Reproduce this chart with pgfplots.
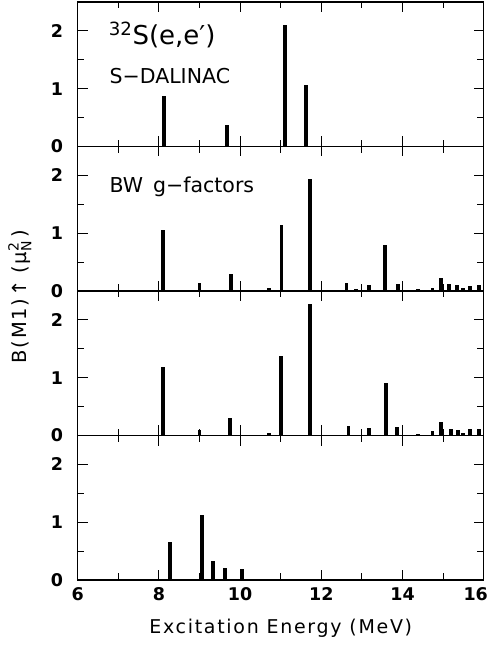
\documentclass[border=0pt]{standalone}
\usepackage{pgfplots}
\pgfplotsset{compat=1.18}
\usepackage{fontspec}
\setmainfont{DejaVu Sans}
\setsansfont{DejaVu Sans}
\newfontfamily\labfont[LetterSpace=9]{DejaVu Sans}
\begin{document}
\begin{tikzpicture}[x=1pt,y=1pt]
\useasboundingbox (0,0) rectangle (490,650);
\pgfplotsset{
 panel/.style={scale only axis, width=406pt, height=144.5pt,
  xmin=6, xmax=16, ymin=0, ymax=2.5,
  xtick={6,8,...,16}, minor x tick num=1,
  ytick={0,1,2}, minor y tick num=1,
  major tick length=10pt, minor tick length=6.5pt,
  axis line style={line width=1.3pt},
  tick style={line width=1.1pt, black},
  tick label style={font=\fontsize{17.5}{17.5}\selectfont\bfseries},
  /pgf/number format/assume math mode=true,
  yticklabel style={xshift=-11pt},
  xticklabels={},
  anchor=south west,
 },
 bars/.style={ycomb, black, line width=3.9pt, mark=none},
}
% Panel 1: experiment
\begin{axis}[panel, at={(77.7pt,503.5pt)}]
\addplot[bars] coordinates {(8.12,0.88) (9.67,0.38) (11.11,2.11) (11.62,1.06)};
\node[anchor=west, font=\fontsize{26}{26}\selectfont] at (axis cs:6.68,1.93) {\textsuperscript{32}S(e,e′)};
\node[anchor=west, font=\fontsize{20.5}{20.5}\selectfont] at (axis cs:6.70,1.22) {S−DALINAC};
\end{axis}
% Panel 2: BW g-factors
\begin{axis}[panel, at={(77.7pt,359pt)}]
\addplot[bars] coordinates {(8.09,1.06) (9.00,0.14) (9.77,0.30) (10.72,0.05) (11.02,1.15) (11.72,1.94)
 (12.62,0.13) (12.85,0.03) (13.18,0.10) (13.57,0.79) (13.90,0.12) (14.39,0.03) (14.74,0.05)
 (14.94,0.22) (15.15,0.12) (15.35,0.10) (15.50,0.06) (15.66,0.09) (15.89,0.10)};
\node[anchor=west, font=\fontsize{20.5}{20.5}\selectfont] at (axis cs:6.70,1.80) {BW\, g−factors};
\end{axis}
% Panel 3
\begin{axis}[panel, at={(77.7pt,214.5pt)},
  ylabel={B(M1)↑\hspace{7pt}(μ$_{\hbox{\fontsize{14}{14}\selectfont N}}^{\hbox{\fontsize{14}{14}\selectfont 2}}$\hspace{3pt})},
  ylabel style={at={(axis description cs:-0.1425,0.96)}, anchor=center, font=\fontsize{19.5}{19.5}\labfont}]
\addplot[bars] coordinates {(8.09,1.18) (9.00,0.10) (9.75,0.31) (10.72,0.05) (11.01,1.37) (11.72,2.27)
 (12.67,0.17) (13.18,0.13) (13.59,0.90) (13.86,0.14) (14.39,0.03) (14.74,0.08)
 (14.94,0.23) (15.19,0.11) (15.37,0.09) (15.50,0.04) (15.66,0.11) (15.89,0.12)};
\end{axis}
% Panel 4
\begin{axis}[panel, at={(77.7pt,70pt)},
  xticklabels={6,8,10,12,14,{\hspace*{-16pt}16}},
  xticklabel style={yshift=-4pt},
  xlabel={Excitation Energy (MeV)},
  xlabel style={at={(axis description cs:0.5,-0.333)}, anchor=center, font=\fontsize{19}{19}\labfont}]
\addplot[bars] coordinates {(8.27,0.65) (9.07,1.12) (9.33,0.33) (9.63,0.20) (10.05,0.19)};
\end{axis}
\end{tikzpicture}
\end{document}
